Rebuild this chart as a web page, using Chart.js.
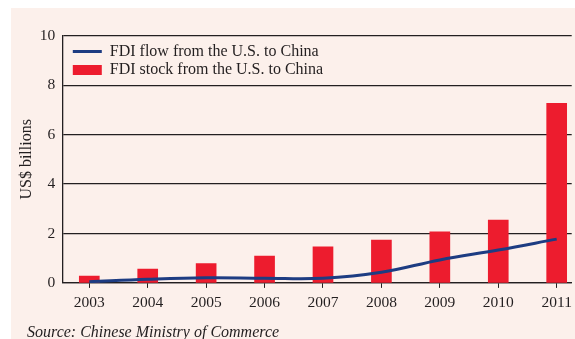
<!DOCTYPE html>
<html>
<head>
<meta charset="utf-8">
<script src="https://cdn.jsdelivr.net/npm/chart.js@4/dist/chart.umd.min.js"></script>
<style>
  html, body { margin: 0; padding: 0; background: #ffffff; }
  #wrap { position: relative; width: 575px; height: 339px; }
</style>
</head>
<body>
<div id="wrap"><canvas id="c" width="575" height="339"></canvas></div>
<script>
const years = [2003, 2004, 2005, 2006, 2007, 2008, 2009, 2010, 2011];
const flowValues = [0.05, 0.15, 0.21, 0.19, 0.19, 0.43, 0.93, 1.33, 1.77];
const stockValues = [0.28, 0.56, 0.78, 1.09, 1.46, 1.73, 2.07, 2.54, 7.26];
const yTicks = [0, 2, 4, 6, 8, 10];
const seriesNames = ['FDI flow from the U.S. to China', 'FDI stock from the U.S. to China'];
const yTitle = 'US$ billions';
const sourceText = 'Source: Chinese Ministry of Commerce';

const SERIF = "'Liberation Serif', 'DejaVu Serif', serif";
const INK = '#231f20';
const NAVY = '#1d3c82';
const RED = '#ed1c2e';

const panelPlugin = {
  id: 'panel',
  beforeDraw(chart) {
    const ctx = chart.ctx;
    ctx.save();
    ctx.fillStyle = '#fcf0eb';
    ctx.fillRect(11, 8, chart.width - 11, chart.height - 8);
    ctx.restore();
  }
};

const legendShift = {
  id: 'legendShift',
  afterLayout(chart) {
    const lg = chart.legend;
    if (lg) {
      const h = lg.bottom - lg.top;
      lg.left += 8; lg.right += 8;
      lg.top = chart.chartArea.top + 5.3;
      lg.bottom = lg.top + h;
    }
  }
};

new Chart(document.getElementById('c'), {
  data: {
    datasets: [
      {
        type: 'line',
        label: seriesNames[0],
        data: years.map((x, i) => ({ x, y: flowValues[i] })),
        borderColor: NAVY,
        backgroundColor: NAVY,
        borderWidth: 3,
        pointRadius: 0,
        tension: 0.4,
        order: 1
      },
      {
        type: 'bar',
        label: seriesNames[1],
        data: years.map((x, i) => ({ x, y: stockValues[i] })),
        backgroundColor: RED,
        borderWidth: 0,
        barThickness: 20,
        order: 2
      }
    ]
  },
  options: {
    responsive: false,
    animation: false,
    layout: { padding: { left: 27, top: 35.7, right: 3.3, bottom: -1.4 } },
    plugins: {
      legend: {
        position: 'chartArea',
        align: 'start',
        labels: {
          usePointStyle: true,
          pointStyleWidth: 29,
          boxHeight: 10,
          padding: 2.5,
          color: INK,
          font: { family: SERIF, size: 16 },
          generateLabels(chart) {
            return [
              { text: seriesNames[0], pointStyle: 'line', strokeStyle: NAVY, fillStyle: NAVY, lineWidth: 3, datasetIndex: 0, fontColor: INK },
              { text: seriesNames[1], pointStyle: 'rect', strokeStyle: RED, fillStyle: RED, lineWidth: 0, datasetIndex: 1, fontColor: INK }
            ];
          }
        }
      },
      subtitle: {
        display: true,
        text: sourceText,
        position: 'bottom',
        align: 'start',
        color: INK,
        font: { family: SERIF, size: 16, style: 'italic', weight: 'normal', lineHeight: 1 },
        padding: { top: 6.9, bottom: 0 }
      },
      title: { display: false },
      tooltip: { enabled: false }
    },
    scales: {
      x: {
        type: 'linear',
        offset: false,
        min: 2002.538,
        max: 2011.257,
        afterBuildTicks(scale) { scale.ticks = years.map(v => ({ value: v })); },
        afterFit(scale) { scale.paddingLeft = 0; scale.paddingRight = 0; },
        ticks: {
          color: INK,
          font: { family: SERIF, size: 15.5 },
          padding: 5.5,
          maxRotation: 0,
          autoSkip: false,
          callback: (v) => String(v)
        },
        grid: { offset: false, drawOnChartArea: false, drawTicks: true, tickLength: 5, color: INK, lineWidth: 1 },
        border: { display: true, color: INK, width: 1.3 }
      },
      y: {
        min: 0,
        max: 10,
        afterBuildTicks(scale) { scale.ticks = yTicks.map(v => ({ value: v })); },
        afterFit(scale) { scale.width = 35.3; },
        ticks: {
          color: INK,
          font: { family: SERIF, size: 15.5 },
          padding: 7
        },
        grid: { drawTicks: false, color: INK, lineWidth: 1.2 },
        border: { display: true, color: INK, width: 1.3 },
        title: {
          display: true,
          text: yTitle,
          color: INK,
          font: { family: SERIF, size: 16, lineHeight: 1.2 },
          padding: { top: -9.6, bottom: 0 }
        }
      }
    }
  },
  plugins: [panelPlugin, legendShift]
});
</script>
</body>
</html>
